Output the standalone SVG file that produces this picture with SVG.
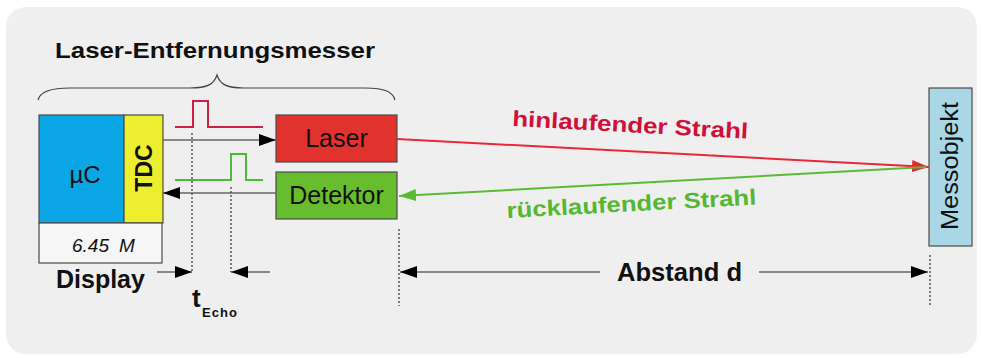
<svg xmlns="http://www.w3.org/2000/svg" width="981" height="358" viewBox="0 0 981 358">
<style>
  .box{stroke:#4a4a4a;stroke-width:1.2}
  .lbl{font-family:"Liberation Sans",Arial,sans-serif;fill:#111}
  .b{font-weight:bold}
  .dot{stroke:#555;stroke-width:1.5;stroke-dasharray:2 2;fill:none}
  .gl{stroke:#666;stroke-width:1.6;fill:none}
</style>
<defs>
  <marker id="ab" viewBox="0 0 17 12" refX="17" refY="6" markerWidth="17" markerHeight="12" markerUnits="userSpaceOnUse" orient="auto">
    <path d="M0,0 L17,6 L0,12 z" fill="#000"/>
  </marker>
  <marker id="ar" viewBox="0 0 17 12" refX="17" refY="6" markerWidth="17" markerHeight="12" markerUnits="userSpaceOnUse" orient="auto">
    <path d="M0,0 L17,6 L0,12 z" fill="#e8283a"/>
  </marker>
  <marker id="ag" viewBox="0 0 17 12" refX="17" refY="6" markerWidth="17" markerHeight="12" markerUnits="userSpaceOnUse" orient="auto">
    <path d="M0,0 L17,6 L0,12 z" fill="#5cbb35"/>
  </marker>
</defs>
<rect x="0" y="0" width="981" height="358" fill="#ffffff"/>
<rect x="6" y="7" width="971" height="347" rx="20" ry="20" fill="#efefef"/>

<text class="lbl b" x="55" y="58" font-size="22" textLength="320" lengthAdjust="spacingAndGlyphs">Laser-Entfernungsmesser</text>
<path d="M38,100 C40,92 50,88 70,88 L190,88 C208,88 214,84 217,75 C220,84 226,88 244,88 L365,88 C385,88 393,92 395,100" fill="none" stroke="#444" stroke-width="1.2"/>

<g id="uc">
  <rect class="box" x="39" y="115" width="85" height="108" fill="#0aa6e6"/>
  <text class="lbl" x="85" y="183" font-size="24" text-anchor="middle">µC</text>
</g>
<g id="tdc">
  <rect class="box" x="124" y="115" width="39" height="108" fill="#eeee30"/>
  <text class="lbl b" x="0" y="0" font-size="23" text-anchor="middle" transform="translate(152,168) rotate(-90)">TDC</text>
</g>
<g id="display">
  <rect class="box" x="39" y="223" width="123" height="40" fill="#f6f6f6"/>
  <text class="lbl" x="72" y="252" font-size="19" font-style="italic">6.45 <tspan x="119">M</tspan></text>
  <text class="lbl b" x="56" y="288" font-size="25">Display</text>
</g>
<g id="laser">
  <rect class="box" x="276" y="115" width="121" height="47" fill="#e2322e"/>
  <text class="lbl" x="336.5" y="147" font-size="25" text-anchor="middle">Laser</text>
</g>
<g id="detektor">
  <rect class="box" x="276" y="172" width="121" height="47" fill="#68bd2e"/>
  <text class="lbl" x="336.5" y="204" font-size="25" text-anchor="middle">Detektor</text>
</g>
<g id="messobjekt">
  <rect class="box" x="929" y="88" width="43" height="158" fill="#a9d7e6"/>
  <text class="lbl" x="0" y="0" font-size="23" text-anchor="middle" textLength="128" lengthAdjust="spacingAndGlyphs" transform="translate(958,166) rotate(-90)">Messobjekt</text>
</g>

<g id="pulses">
  <path d="M175,127 L193,127 L193,101 L208,101 L208,127 L263,127" fill="none" stroke="#cc2244" stroke-width="2"/>
  <path d="M175,180 L231,180 L231,154 L246,154 L246,180 L263,180" fill="none" stroke="#4cbb38" stroke-width="2"/>
</g>

<g id="connectors">
  <line class="gl" x1="163" y1="140" x2="276" y2="140" marker-end="url(#ab)"/>
  <line class="gl" x1="276" y1="193" x2="163" y2="193" marker-end="url(#ab)"/>
  <line x1="397" y1="139" x2="929" y2="167" stroke="#e8283a" stroke-width="2" marker-end="url(#ar)"/>
  <line x1="926" y1="167" x2="399" y2="196" stroke="#5cbb35" stroke-width="2" marker-end="url(#ag)"/>
  <line class="dot" x1="192" y1="133" x2="192" y2="272"/>
  <line class="dot" x1="231" y1="187" x2="231" y2="272"/>
  <line class="dot" x1="399" y1="229" x2="399" y2="306"/>
  <line class="dot" x1="930" y1="255" x2="930" y2="307"/>
  <line class="gl" x1="157" y1="272" x2="192" y2="272" marker-end="url(#ab)"/>
  <line class="gl" x1="270" y1="272" x2="231" y2="272" marker-end="url(#ab)"/>
  <line class="gl" x1="600" y1="272" x2="400" y2="272" marker-end="url(#ab)"/>
  <line class="gl" x1="759" y1="272" x2="928" y2="272" marker-end="url(#ab)"/>
</g>

<g id="labels">
  <text class="lbl b" x="512" y="126" font-size="22" style="fill:#d0103a" textLength="236" lengthAdjust="spacingAndGlyphs" transform="rotate(3.1 512 126)">hinlaufender Strahl</text>
  <text class="lbl b" x="507" y="218" font-size="22" style="fill:#55b833" textLength="250" lengthAdjust="spacingAndGlyphs" transform="rotate(-3.1 507 218)">rücklaufender Strahl</text>
  <text class="lbl b" x="617" y="281" font-size="25" textLength="125" lengthAdjust="spacingAndGlyphs">Abstand d</text>
  <text class="lbl b" x="192" y="307" font-size="26">t<tspan x="202" y="317" font-size="13" textLength="35" lengthAdjust="spacing">Echo</tspan></text>
</g>
</svg>
